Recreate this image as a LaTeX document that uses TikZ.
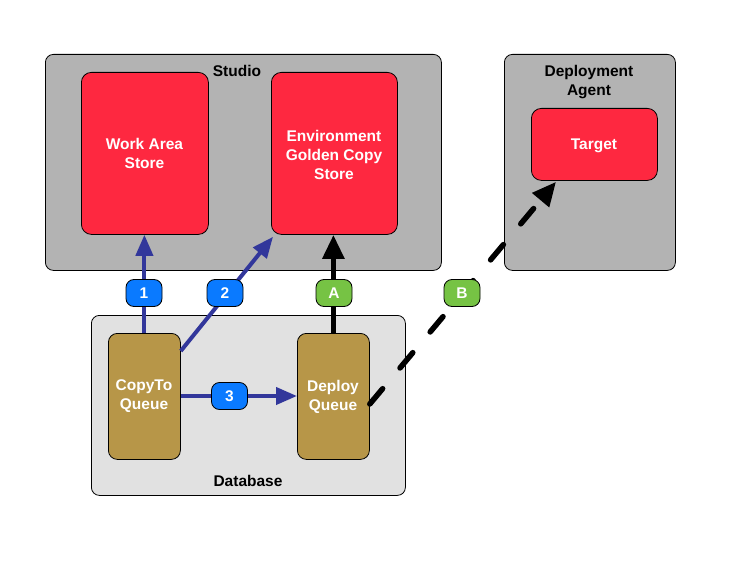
\documentclass[tikz,border=0pt]{standalone}
\usepackage{fontspec}
\setmainfont{Liberation Sans}
\usetikzlibrary{arrows.meta,calc}
\definecolor{studiogray}{RGB}{179,179,179}
\definecolor{dbgray}{RGB}{225,225,225}
\definecolor{storered}{RGB}{254,40,64}
\definecolor{queuegold}{RGB}{183,150,72}
\definecolor{tagblue}{RGB}{10,122,255}
\definecolor{taggreen}{RGB}{118,195,68}
\definecolor{flowblue}{RGB}{50,55,155}
\tikzset{
  container/.style={draw=black, line width=0.8pt, rounded corners=8pt, anchor=north west, inner sep=0pt},
  store/.style={draw=black, line width=0.8pt, fill=storered, rounded corners=10pt, text=white,
    font=\fontsize{15.5}{19}\selectfont\bfseries, align=center, inner sep=0pt, anchor=north west},
  queue/.style={draw=black, line width=0.8pt, fill=queuegold, rounded corners=9pt, text=white,
    font=\fontsize{15.5}{19}\selectfont\bfseries, align=center, inner sep=0pt, anchor=north west},
  title/.style={font=\fontsize{15.5}{19}\selectfont\bfseries, align=center, text=black},
  whitetext/.style={align=center, text=white, font=\fontsize{15.5}{19}\selectfont\bfseries},
  tag/.style={draw=black, line width=0.8pt, rounded corners=8pt, text=white,
    minimum width=36pt, minimum height=27pt, inner sep=0pt, font=\fontsize{15.5}{19}\selectfont\bfseries},
  bluetag/.style={tag, fill=tagblue},
  greentag/.style={tag, fill=taggreen},
  blueflow/.style={draw=flowblue, line width=4pt, -{Triangle[length=21pt,width=17pt]}},
  blackflow/.style={draw=black, line width=5.5pt, -{Triangle[length=24pt,width=21pt]}},
  dashflow/.style={draw=black, line width=5.5pt, line cap=round, dash pattern=on 20pt off 27pt, -{Triangle[length=24pt,width=21pt]}},
}
\begin{document}
\begin{tikzpicture}[x=1pt,y=-1pt]
\useasboundingbox (0,0) rectangle (747,567);
% containers
\node[container, fill=studiogray, minimum width=396pt, minimum height=216pt] (studio) at (45,54) {};
\node[container, fill=studiogray, minimum width=171pt, minimum height=216pt] (agent) at (504,54) {};
\node[container, fill=dbgray, minimum width=314pt, minimum height=180pt] (db) at (91,315) {};
\node[title] (studiolbl) at (237,71) {Studio};
\node[title] (agentlbl) at (589,82.5) {Deployment\\Agent};
\node[title] (dblbl) at (248,481) {Database};
% stores
\node[store, minimum width=127pt, minimum height=162pt] (work) at (81,72) {};
\node[whitetext] (worklbl) at (144.5,153.5) {Work Area\\Store};
\node[store, minimum width=126pt, minimum height=162pt] (env) at (271,72) {};
\node[whitetext] (envlbl) at (334,154.5) {Environment\\Golden Copy\\Store};
\node[store, minimum width=126pt, minimum height=72pt] (target) at (531,108) {};
\node[whitetext] (targetlbl) at (594,145.5) {Target};
% queues
\node[queue, minimum width=72pt, minimum height=126pt] (copyto) at (108,333) {};
\node[whitetext] (copytolbl) at (144,396.5) {CopyTo\\Queue};
\node[queue, minimum width=72pt, minimum height=126pt] (deploy) at (297,333) {};
\node[whitetext] (deploylbl) at (333,396.5) {Deploy\\Queue};
% connector end points
\coordinate (c2s) at ($(copyto.north east)+(0,18)$);
\coordinate (c2e) at ($(env.south west)+(2,2)$);
\coordinate (c3s) at ($(copyto.north east)+(0,63)$);
\coordinate (c3e) at ($(deploy.north west)+(0,63)$);
\coordinate (cbs) at ($(deploy.north east)+(0,71)$);
\coordinate (cbe) at ($(target.south west)+(25,1)$);
% connectors
\draw[blueflow] (copyto.north) -- (copyto.north |- work.south);
\draw[blueflow] (c2s) -- (c2e);
\draw[blueflow] (c3s) -- (c3e);
\draw[blackflow] (deploy.north) -- (deploy.north |- env.south);
\draw[dashflow] (cbs) -- (cbe);
% tags
\node[bluetag] (t1) at (144,293) {1};
\node[bluetag] (t2) at (225,293) {2};
\node[bluetag] (t3) at (229.5,396) {3};
\node[greentag] (tA) at (334,293) {A};
\node[greentag] (tB) at (462,293) {B};
\end{tikzpicture}
\end{document}
